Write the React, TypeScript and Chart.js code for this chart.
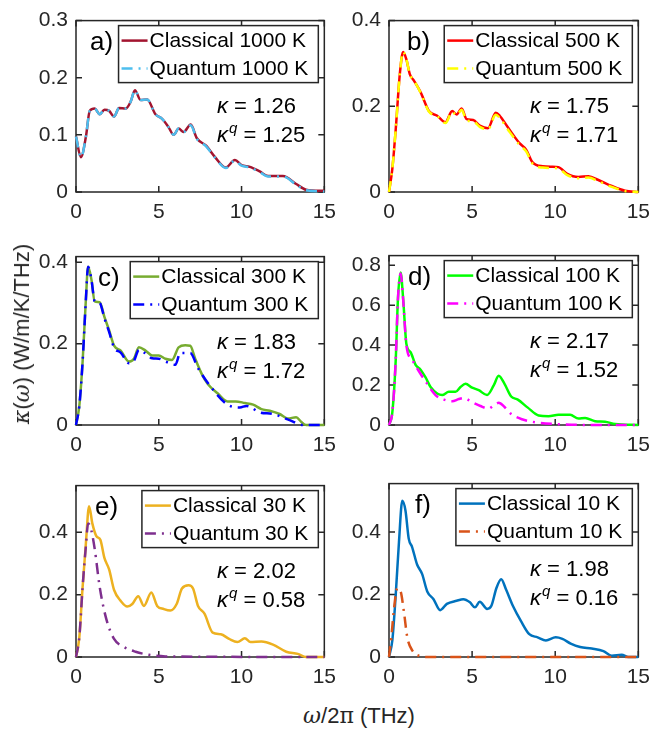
import React, { useEffect, useRef } from "react";
import { Chart, registerables } from "chart.js";

Chart.register(...registerables);

const FONT = "'Liberation Sans', Arial, Helvetica, sans-serif";

// ---------- data ----------
const panelLetters = ["a", "b", "c", "d", "e", "f"];
const temperatures = ["1000", "500", "300", "100", "30", "10"];
const kappaClassical = ["1.26", "1.75", "1.83", "2.17", "2.02", "1.98"];
const kappaQuantum = ["1.25", "1.71", "1.72", "1.52", "0.58", "0.16"];
const xTicks = [0, 5, 10, 15];

// Panel a – 1000 K
const freqA = [0, 0.3, 0.6, 0.83, 1.13, 1.43, 1.72, 2.0, 2.3, 2.6, 3.0, 3.3, 3.56, 3.9, 4.3, 4.8, 5.2, 5.58, 5.9, 6.2, 6.5, 6.93, 7.3, 7.86, 8.4, 9.05, 9.6, 10.0, 10.5, 11.1, 11.6, 12.5, 13.3, 13.9, 15];
const classicalA = [0.097, 0.061, 0.097, 0.142, 0.146, 0.136, 0.144, 0.142, 0.132, 0.147, 0.146, 0.158, 0.178, 0.161, 0.162, 0.136, 0.128, 0.114, 0.1, 0.111, 0.105, 0.118, 0.094, 0.081, 0.061, 0.043, 0.056, 0.047, 0.044, 0.036, 0.028, 0.028, 0.014, 0.004, 0.002];
const quantumA = [0.097, 0.061, 0.097, 0.142, 0.146, 0.136, 0.144, 0.142, 0.132, 0.147, 0.146, 0.158, 0.178, 0.161, 0.162, 0.136, 0.128, 0.114, 0.1, 0.111, 0.105, 0.117, 0.093, 0.08, 0.06, 0.042, 0.055, 0.046, 0.043, 0.035, 0.027, 0.027, 0.013, 0.003, 0.001];

// Panel b – 500 K
const freqB = [0, 0.2, 0.4, 0.66, 0.85, 1.05, 1.25, 1.5, 1.9, 2.4, 2.9, 3.4, 3.8, 4.07, 4.37, 4.67, 5.07, 5.46, 5.96, 6.42, 6.66, 7.15, 7.85, 8.25, 8.64, 9.24, 9.8, 10.2, 10.7, 11.4, 12.0, 12.6, 13.4, 14.2, 15];
const classicalB = [0, 0.054, 0.144, 0.279, 0.327, 0.309, 0.275, 0.26, 0.233, 0.189, 0.178, 0.163, 0.189, 0.181, 0.195, 0.17, 0.168, 0.155, 0.149, 0.185, 0.178, 0.151, 0.114, 0.099, 0.069, 0.06, 0.059, 0.058, 0.043, 0.035, 0.037, 0.028, 0.014, 0.003, 0];
const quantumB = [0, 0.054, 0.144, 0.279, 0.327, 0.309, 0.275, 0.26, 0.232, 0.188, 0.177, 0.161, 0.187, 0.179, 0.192, 0.167, 0.165, 0.152, 0.146, 0.18, 0.173, 0.146, 0.11, 0.095, 0.066, 0.057, 0.056, 0.055, 0.04, 0.032, 0.034, 0.025, 0.012, 0.002, 0];

// Panel c – 300 K
const freqC = [0, 0.2, 0.4, 0.6, 0.73, 0.93, 1.13, 1.43, 1.72, 2.0, 2.3, 2.7, 3.2, 3.5, 3.8, 4.2, 4.6, 5.0, 5.4, 5.8, 6.2, 6.6, 6.9, 7.2, 7.6, 7.96, 8.55, 9.15, 9.65, 10.2, 10.7, 11.2, 11.7, 12.3, 12.8, 13.3, 13.6, 13.9, 15];
const classicalC = [0, 0.047, 0.156, 0.311, 0.389, 0.358, 0.304, 0.302, 0.265, 0.233, 0.195, 0.183, 0.156, 0.163, 0.191, 0.183, 0.171, 0.171, 0.163, 0.16, 0.191, 0.196, 0.195, 0.163, 0.125, 0.101, 0.078, 0.058, 0.058, 0.054, 0.05, 0.039, 0.035, 0.027, 0.016, 0.019, 0.008, 0, 0];
const freqCq = [0, 0.2, 0.4, 0.6, 0.73, 0.93, 1.13, 1.43, 1.72, 2.0, 2.3, 2.7, 3.2, 3.5, 3.8, 4.2, 4.6, 5.0, 5.4, 6.0, 6.3, 6.9, 7.37, 8.16, 9.15, 9.9, 10.3, 11.1, 11.9, 12.9, 13.7, 15];
const quantumC = [0, 0.047, 0.156, 0.311, 0.389, 0.358, 0.304, 0.3, 0.262, 0.229, 0.19, 0.178, 0.152, 0.158, 0.185, 0.176, 0.164, 0.163, 0.156, 0.148, 0.177, 0.177, 0.14, 0.093, 0.05, 0.043, 0.047, 0.031, 0.027, 0.012, 0, 0];

// Panel d – 100 K
const freqD = [0, 0.2, 0.4, 0.54, 0.7, 0.85, 1.05, 1.3, 1.6, 1.9, 2.2, 2.5, 2.9, 3.2, 3.6, 4.0, 4.3, 4.6, 5.0, 5.4, 5.9, 6.3, 6.6, 6.95, 7.35, 7.75, 8.35, 9.0, 9.6, 10.2, 10.9, 11.4, 11.8, 12.4, 13.0, 13.6, 15];
const classicalD = [0, 0.063, 0.317, 0.634, 0.763, 0.634, 0.404, 0.364, 0.301, 0.277, 0.238, 0.19, 0.158, 0.15, 0.166, 0.166, 0.19, 0.206, 0.187, 0.174, 0.15, 0.198, 0.246, 0.206, 0.143, 0.127, 0.087, 0.048, 0.044, 0.051, 0.051, 0.032, 0.035, 0.019, 0.016, 0.005, 0];
const freqDq = [0, 0.2, 0.4, 0.54, 0.7, 0.85, 1.05, 1.4, 1.8, 2.3, 2.8, 3.3, 3.8, 4.2, 4.5, 5.0, 5.5, 6.0, 6.3, 6.6, 6.95, 7.35, 8.0, 8.85, 10.0, 12.0, 15];
const quantumD = [0, 0.063, 0.317, 0.634, 0.758, 0.63, 0.396, 0.325, 0.269, 0.206, 0.15, 0.127, 0.119, 0.13, 0.135, 0.114, 0.095, 0.082, 0.098, 0.111, 0.09, 0.055, 0.029, 0.013, 0.005, 0, 0];

// Panel e – 30 K
const freqE = [0, 0.2, 0.4, 0.6, 0.79, 0.99, 1.23, 1.47, 1.72, 2.0, 2.3, 2.7, 3.1, 3.4, 3.76, 4.1, 4.55, 4.9, 5.3, 5.7, 6.08, 6.4, 6.8, 7.07, 7.37, 7.76, 8.26, 8.75, 9.25, 9.75, 10.2, 10.54, 11.2, 11.9, 12.7, 13.4, 13.9, 15];
const classicalE = [0, 0.063, 0.225, 0.367, 0.484, 0.428, 0.388, 0.376, 0.317, 0.281, 0.215, 0.18, 0.162, 0.17, 0.195, 0.164, 0.207, 0.164, 0.154, 0.149, 0.17, 0.22, 0.23, 0.22, 0.164, 0.139, 0.078, 0.073, 0.058, 0.048, 0.06, 0.048, 0.05, 0.04, 0.017, 0.01, 0, 0];
const freqEq = [0, 0.2, 0.4, 0.6, 0.73, 0.87, 1.13, 1.43, 1.82, 2.3, 2.9, 3.6, 4.4, 5.4, 15];
const quantumE = [0, 0.063, 0.225, 0.357, 0.428, 0.418, 0.347, 0.225, 0.124, 0.058, 0.032, 0.017, 0.007, 0.002, 0];

// Panel f – 10 K
const freqF = [0, 0.2, 0.4, 0.6, 0.8, 0.99, 1.19, 1.39, 1.69, 1.99, 2.3, 2.68, 3.08, 3.48, 4.07, 4.47, 4.87, 5.17, 5.46, 5.9, 6.16, 6.46, 6.75, 7.05, 7.45, 7.95, 8.44, 8.94, 9.44, 10.03, 10.43, 10.93, 11.5, 12.2, 12.9, 13.4, 14.0, 14.4, 15];
const classicalF = [0, 0.053, 0.195, 0.368, 0.5, 0.469, 0.378, 0.352, 0.296, 0.266, 0.21, 0.185, 0.15, 0.17, 0.18, 0.185, 0.175, 0.159, 0.177, 0.154, 0.164, 0.22, 0.249, 0.215, 0.164, 0.114, 0.073, 0.063, 0.053, 0.063, 0.058, 0.043, 0.032, 0.027, 0.019, 0.004, 0.007, 0, 0];
const freqFq = [0, 0.14, 0.3, 0.5, 0.7, 0.9, 1.1, 1.39, 1.8, 2.5, 15];
const quantumF = [0, 0.063, 0.154, 0.22, 0.21, 0.144, 0.063, 0.022, 0.004, 0, 0];

const yMaxes = [0.3, 0.4, 0.414, 0.848, 0.55, 0.555];
const ySteps = [0.1, 0.2, 0.2, 0.2, 0.2, 0.2];

// ---------- styling / layout ----------
const classicalColors = ["#A2142F", "#FF0000", "#77AC30", "#00FF00", "#EDB120", "#0072BD"];
const quantumColors = ["#4DBEEE", "#FFFF00", "#0000FF", "#FF00FF", "#7E2F8E", "#D95319"];
const boxes = [
  [76, 12, 328, 192],
  [389, 12, 642, 192],
  [76, 248, 328, 425],
  [389, 247, 642, 425],
  [76, 477, 328, 657],
  [389, 475, 642, 657],
];
const labelDx = [14, 18, 22, 19, 19, 26];
const DASH = [11, 6, 2, 6];
const LW = 2.5;

const classicalSeries = [
  [freqA, classicalA], [freqB, classicalB], [freqC, classicalC],
  [freqD, classicalD], [freqE, classicalE], [freqF, classicalF],
];
const quantumSeries = [
  [freqA, quantumA], [freqB, quantumB], [freqCq, quantumC],
  [freqDq, quantumD], [freqEq, quantumE], [freqFq, quantumF],
];

const toPts = (xs: number[], ys: number[]) => xs.map((x, i) => ({ x, y: ys[i] }));

const PAD_L = 70, PAD_T = 12, PAD_R = 16, PAD_B = 40;

function makeDecor(i: number) {
  return {
    id: "decor" + i,
    beforeDatasetsDraw(chart: any) {
      const { ctx, chartArea: a, scales } = chart;
      const xs = scales.x, ys = scales.y;
      ctx.save();
      ctx.strokeStyle = "#262626";
      ctx.lineWidth = 1.5;
      ctx.setLineDash([]);
      ctx.strokeRect(a.left, a.top, a.right - a.left, a.bottom - a.top);
      const tl = 6;
      ctx.beginPath();
      xTicks.forEach((v) => {
        const px = xs.getPixelForValue(v);
        ctx.moveTo(px, a.bottom); ctx.lineTo(px, a.bottom - tl);
        ctx.moveTo(px, a.top); ctx.lineTo(px, a.top + tl);
      });
      ys.ticks.forEach((t: any) => {
        const py = ys.getPixelForValue(t.value);
        ctx.moveTo(a.left, py); ctx.lineTo(a.left + tl, py);
        ctx.moveTo(a.right, py); ctx.lineTo(a.right - tl, py);
      });
      ctx.stroke();
      ctx.restore();
    },
    afterDatasetsDraw(chart: any) {
      const { ctx, chartArea: a } = chart;
      ctx.save();
      // panel letter
      ctx.fillStyle = "#000";
      ctx.font = `26px ${FONT}`;
      ctx.textBaseline = "middle";
      ctx.textAlign = "left";
      ctx.fillText(panelLetters[i] + ")", a.left + labelDx[i], a.top + 22);

      // legend
      ctx.font = `21px ${FONT}`;
      const t1 = `Classical ${temperatures[i]} K`;
      const t2 = `Quantum ${temperatures[i]} K`;
      const tw = Math.max(ctx.measureText(t1).width, ctx.measureText(t2).width);
      const bw = 31 + tw + 10;
      const bh = 57;
      const bx = a.right - 6 - bw;
      const by = a.top + 5;
      ctx.fillStyle = "#fff";
      ctx.fillRect(bx, by, bw, bh);
      ctx.strokeStyle = "#262626";
      ctx.lineWidth = 1.5;
      ctx.strokeRect(bx, by, bw, bh);
      const r1 = by + 15, r2 = by + 43;
      ctx.lineWidth = LW;
      ctx.strokeStyle = classicalColors[i];
      ctx.beginPath(); ctx.moveTo(bx + 3, r1); ctx.lineTo(bx + 29, r1); ctx.stroke();
      ctx.strokeStyle = quantumColors[i];
      ctx.setLineDash(DASH);
      ctx.beginPath(); ctx.moveTo(bx + 3, r2); ctx.lineTo(bx + 29, r2); ctx.stroke();
      ctx.setLineDash([]);
      ctx.fillStyle = "#000";
      ctx.fillText(t1, bx + 31, r1 + 1);
      ctx.fillText(t2, bx + 31, r2 + 1);

      // kappa annotations
      const kx = a.left + 141;
      const k1y = a.top + 86, k2y = a.top + 115;
      ctx.font = `italic 22px ${FONT}`;
      ctx.fillText("κ", kx, k1y);
      let w = ctx.measureText("κ").width;
      ctx.font = `22px ${FONT}`;
      ctx.fillText(" = " + kappaClassical[i], kx + w, k1y);
      ctx.font = `italic 22px ${FONT}`;
      ctx.fillText("κ", kx, k2y);
      w = ctx.measureText("κ").width;
      ctx.font = `italic 15px ${FONT}`;
      ctx.fillText("q", kx + w + 1, k2y - 7);
      const wq = ctx.measureText("q").width;
      ctx.font = `22px ${FONT}`;
      ctx.fillText(" = " + kappaQuantum[i], kx + w + 1 + wq, k2y);
      ctx.restore();
    },
  };
}

function Panel({ i }: { i: number }) {
  const ref = useRef<HTMLCanvasElement>(null);
  const [L, T, R, B] = boxes[i];
  const width = R - L + PAD_L + PAD_R;
  const height = B - T + PAD_T + PAD_B;
  useEffect(() => {
    if (!ref.current) return;
    const [cx, cy] = classicalSeries[i];
    const [qx, qy] = quantumSeries[i];
    const chart = new Chart(ref.current, {
      type: "line",
      data: {
        datasets: [
          {
            label: `Classical ${temperatures[i]} K`,
            data: toPts(cx as number[], cy as number[]),
            borderColor: classicalColors[i],
            borderWidth: LW,
            pointRadius: 0,
            cubicInterpolationMode: "monotone",
            fill: false,
            order: 1,
            clip: 3,
          },
          {
            label: `Quantum ${temperatures[i]} K`,
            data: toPts(qx as number[], qy as number[]),
            borderColor: quantumColors[i],
            borderWidth: LW,
            borderDash: DASH,
            pointRadius: 0,
            cubicInterpolationMode: "monotone",
            fill: false,
            order: 0,
            clip: 3,
          },
        ],
      },
      options: {
        animation: false,
        responsive: false,
        maintainAspectRatio: false,
        layout: { padding: { left: 0, top: PAD_T, right: PAD_R, bottom: 0 }, autoPadding: false },
        plugins: { legend: { display: false }, tooltip: { enabled: false } },
        scales: {
          x: {
            type: "linear",
            min: 0,
            max: 15,
            ticks: { stepSize: 5, padding: 8, color: "#262626", font: { size: 21, family: FONT }, maxRotation: 0, autoSkip: false },
            grid: { display: false, drawTicks: false },
            border: { display: false },
            afterFit: (s: any) => { s.height = PAD_B; },
          },
          y: {
            type: "linear",
            min: 0,
            max: yMaxes[i],
            ticks: { stepSize: ySteps[i], includeBounds: false, padding: 8, color: "#262626", font: { size: 21, family: FONT } },
            grid: { display: false, drawTicks: false },
            border: { display: false },
            afterFit: (s: any) => { s.width = PAD_L; },
          },
        },
      },
      plugins: [makeDecor(i)],
    } as any);
    return () => chart.destroy();
  }, [i]);
  return (
    <canvas
      ref={ref}
      width={width}
      height={height}
      style={{ position: "absolute", left: L - PAD_L, top: T - PAD_T, width, height }}
    />
  );
}

export default function App() {
  return (
    <div style={{ position: "absolute", left: 0, top: 0, width: 655, height: 732, background: "#fff", fontFamily: FONT, overflow: "hidden" }}>
      {boxes.map((_, i) => (
        <Panel key={i} i={i} />
      ))}
      <div
        style={{
          position: "absolute",
          left: 22,
          top: 334,
          transform: "translate(-50%, -50%) rotate(-90deg)",
          whiteSpace: "nowrap",
          fontSize: 22,
          color: "#262626",
        }}
      >
        <i style={{ fontFamily: "'DejaVu Serif', serif" }}>κ</i>(<i style={{ fontFamily: "'DejaVu Serif', serif" }}>ω</i>) (W/m/K/THz)
      </div>
      <div
        style={{
          position: "absolute",
          left: 359,
          top: 716,
          transform: "translate(-50%, -50%)",
          whiteSpace: "nowrap",
          fontSize: 22,
          color: "#262626",
        }}
      >
        <i style={{ fontFamily: "'DejaVu Serif', serif" }}>ω</i>/2<span style={{ fontFamily: "'DejaVu Serif', serif" }}>π</span> (THz)
      </div>
    </div>
  );
}
